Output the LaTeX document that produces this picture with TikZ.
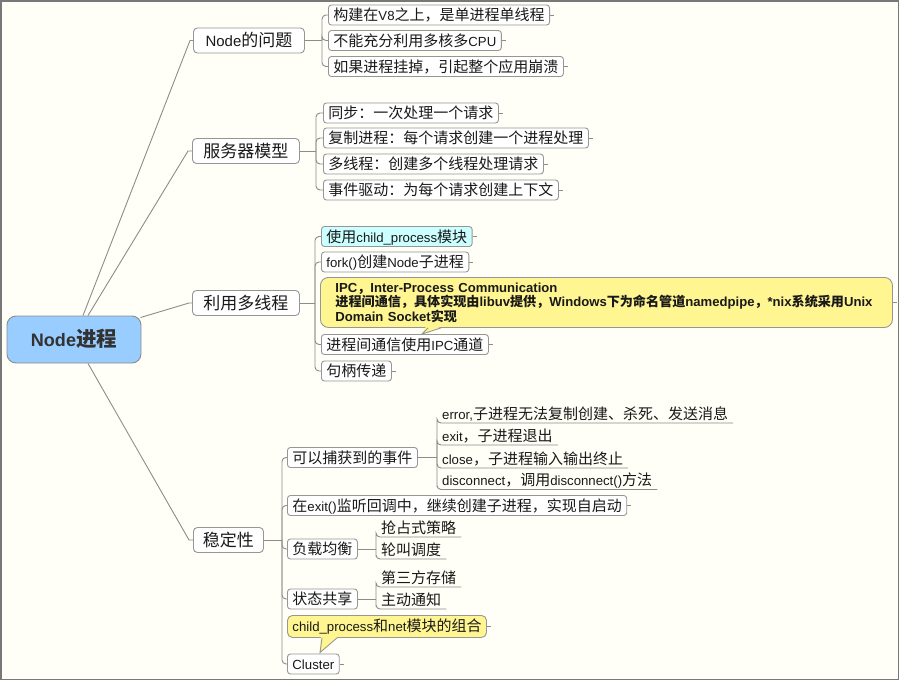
\documentclass[tikz,border=0pt]{standalone}
\usepackage{fontspec}
\setmainfont[Scale=0.88]{Liberation Sans}
\newfontfamily\latinfam[Scale=0.88]{Liberation Sans}
\newfontfamily\latfull{Liberation Sans}
\newfontfamily\cjkfam{Noto Sans CJK SC}
\usetikzlibrary{calc}
\XeTeXinterchartokenstate=1
\newXeTeXintercharclass\cjkcls
\newcount\mycnt
\mycnt="3000
\loop
  \XeTeXcharclass\mycnt=\cjkcls
  \ifnum\mycnt<"9FFF \advance\mycnt by 1
\repeat
\mycnt="FF00
\loop
  \XeTeXcharclass\mycnt=\cjkcls
  \ifnum\mycnt<"FF60 \advance\mycnt by 1
\repeat
\def\mycjk{\cjkfam}
\def\mylatin{\latinfam}
\XeTeXinterchartoks 0 \cjkcls = {\mycjk}
\XeTeXinterchartoks 4095 \cjkcls = {\mycjk}
\XeTeXinterchartoks \cjkcls 0 = {\mylatin}

\definecolor{bg}{RGB}{255,255,247}
\definecolor{boxgray}{RGB}{150,150,150}
\definecolor{linegray}{RGB}{140,140,140}
\definecolor{rootfill}{RGB}{153,204,255}
\definecolor{cyanfill}{RGB}{204,255,255}
\definecolor{notefill}{RGB}{255,245,145}
\definecolor{txt}{RGB}{25,25,25}
\definecolor{roottxt}{RGB}{50,50,50}
\definecolor{framegray}{RGB}{120,120,120}

\tikzset{
  box/.style={draw=boxgray, fill=white, rounded corners=3pt, line width=0.9pt,
    inner xsep=5pt, inner ysep=0pt, minimum height=20pt, text height=13pt, text depth=2pt,
    font=\fontsize{15}{18}\selectfont, text=txt, anchor=west},
  topic/.style={box, rounded corners=4pt, minimum height=25pt, text height=14.5pt,
    font=\fontsize{17}{20}\selectfont},
  rootbox/.style={draw=linegray, fill=rootfill, rounded corners=9pt, line width=0.9pt,
    minimum width=134pt, minimum height=47pt, text height=16pt, text depth=2pt,
    font=\bfseries\fontsize{20.5}{24}\selectfont, text=roottxt},
  uline/.style={inner xsep=5pt, inner ysep=1.5pt, text height=13pt, text depth=2pt,
    font=\fontsize{15}{18}\selectfont, text=txt, anchor=south west},
  note/.style={draw=boxgray, fill=notefill, line width=0.9pt, text=txt, anchor=north west},
  conn/.style={draw=linegray, line width=0.9pt},
}

\begin{document}
\begin{tikzpicture}[x=1pt,y=-1pt]
\useasboundingbox (0,0) rectangle (899,680);
\fill[bg] (0,0) rectangle (899,680);
\draw[framegray, line width=1.5pt] (0.75,0.75) rectangle (898.25,679.25);

% root and topics
\node[rootbox] (root) at (74,339.5) {Node进程};
\node[topic, minimum width=111pt] (n1) at (193,40.5) {Node的问题};
\node[topic, minimum width=107pt] (n2) at (192,151) {服务器模型};
\node[topic, minimum width=107pt] (n3) at (192,303) {利用多线程};
\node[topic, minimum width=70pt] (n4) at (193,540) {稳定性};

\draw[conn] ($(root.north)+(9,0)$) -- ($(n1.west)+(-3,0)$) -- (n1.west);
\draw[conn] ($(root.north)+(14,0)$) -- ($(n2.west)+(-4,0)$) -- (n2.west);
\draw[conn] ($(root.north east)+(-1,2)$) -- ($(n3.west)+(-3,0)$) -- (n3.west);
\draw[conn] ($(root.south)+(14,0)$) -- ($(n4.west)+(-4,0)$) -- (n4.west);

% Node的问题
\node[box] (a1) at (328,15) {构建在V8之上，是单进程单线程};
\node[box] (a2) at (328,40.5) {不能充分利用多核多CPU};
\node[box] (a3) at (328,66.5) {如果进程挂掉，引起整个应用崩溃};
\coordinate (k1) at (322,40.5);
\draw[conn] (n1.east) -- (k1);
\foreach \c in {a1,a2,a3} {\draw[conn,rounded corners=4pt] (k1) |- (\c.west);}

% 服务器模型
\node[box] (b1) at (323,113) {同步：一次处理一个请求};
\node[box] (b2) at (323,138) {复制进程：每个请求创建一个进程处理};
\node[box] (b3) at (323,164) {多线程：创建多个线程处理请求};
\node[box] (b4) at (323,190) {事件驱动：为每个请求创建上下文};
\coordinate (k2) at (316,151);
\draw[conn] (n2.east) -- (k2);
\foreach \c in {b1,b2,b3,b4} {\draw[conn,rounded corners=4pt] (k2) |- (\c.west);}

% 利用多线程
\node[box, fill=cyanfill] (c1) at (321,236.5) {使用child\_process模块};
\node[box] (c2) at (321,262) {fork()创建Node子进程};
\node[box] (c3) at (321,344.5) {进程间通信使用IPC通道};
\node[box] (c4) at (321,371) {句柄传递};
\coordinate (k3) at (315,303);
\draw[conn] (n3.east) -- (k3);
\foreach \c in {c1,c2,c3,c4} {\draw[conn,rounded corners=4pt] (k3) |- (\c.west);}

\node[note, rounded corners=8pt, minimum width=572pt, minimum height=50pt,
  inner xsep=15pt, inner ysep=0pt, text width=542pt, align=left,
  font=\let\mylatin\latfull\latfull\bfseries\fontsize{13.1}{14}\selectfont] (ipc) at (320,277)
  {IPC，Inter-Process Communication\\进程间通信，具体实现由libuv提供，Windows下为命名管道namedpipe，*nix系统采用Unix\\Domain Socket实现};
\coordinate (t1) at ($(c3.north west)+(101,0)$);
\fill[notefill] ($(ipc.south west)+(106,-1.5)$) -- ($(ipc.south west)+(122,-1.5)$) -- (t1) -- cycle;
\draw[conn, draw=boxgray] ($(ipc.south west)+(108,0)$) -- (t1) -- ($(ipc.south west)+(121,0)$);

% 稳定性
\node[box] (d1) at (287,457.5) {可以捕获到的事件};
\node[box] (d2) at (287,505.5) {在exit()监听回调中，继续创建子进程，实现自启动};
\node[box] (d3) at (287,549) {负载均衡};
\node[box] (d4) at (287,599) {状态共享};
\node[box] (d5) at (287,664) {Cluster};
\coordinate (k4) at (282,540);
\draw[conn] (n4.east) -- (k4);
\foreach \c in {d1,d2,d3,d4,d5} {\draw[conn,rounded corners=4pt] (k4) |- (\c.west);}

\node[note, rounded corners=5pt, minimum width=198pt, minimum height=22pt,
  inner xsep=5pt, inner ysep=0pt, text height=13pt, text depth=2pt,
  font=\fontsize{15}{18}\selectfont] (cp) at (287,615) {child\_process和net模块的组合};
\coordinate (t2) at ($(d5.north west)+(33,-1)$);
\fill[notefill] ($(cp.south west)+(34,-1.5)$) -- ($(cp.south west)+(51,-1.5)$) -- (t2) -- cycle;
\draw[conn, draw=boxgray] ($(cp.south west)+(35,0)$) -- (t2) -- ($(cp.south west)+(50,0)$);

% events
\node[uline] (e1) at (437,423) {error,子进程无法复制创建、杀死、发送消息};
\node[uline] (e2) at (437,445) {exit，子进程退出};
\node[uline] (e3) at (437,468) {close，子进程输入输出终止};
\node[uline] (e4) at (437,489.5) {disconnect，调用disconnect()方法};
\coordinate (k5) at (437,457.5);
\draw[conn] (d1.east) -- (k5);
\foreach \c in {e1,e2,e3,e4} {\draw[conn,rounded corners=4pt] (k5) |- (\c.south west) -- (\c.south east);}

\node[uline] (f1) at (376,537) {抢占式策略};
\node[uline] (f2) at (376,559) {轮叫调度};
\coordinate (k6) at (376,549);
\draw[conn] (d3.east) -- (k6);
\foreach \c in {f1,f2} {\draw[conn,rounded corners=4pt] (k6) |- (\c.south west) -- (\c.south east);}

\node[uline] (g1) at (376,587) {第三方存储};
\node[uline] (g2) at (376,609) {主动通知};
\coordinate (k7) at (376,599);
\draw[conn] (d4.east) -- (k7);
\foreach \c in {g1,g2} {\draw[conn,rounded corners=4pt] (k7) |- (\c.south west) -- (\c.south east);}

% ticks
\foreach \c in {a1,a2,a3,b1,b2,b3,b4,c1,c2,c3,c4,d2,d5,ipc,cp} {\draw[conn] (\c.east) -- ++(4,0);}
\end{tikzpicture}
\end{document}
